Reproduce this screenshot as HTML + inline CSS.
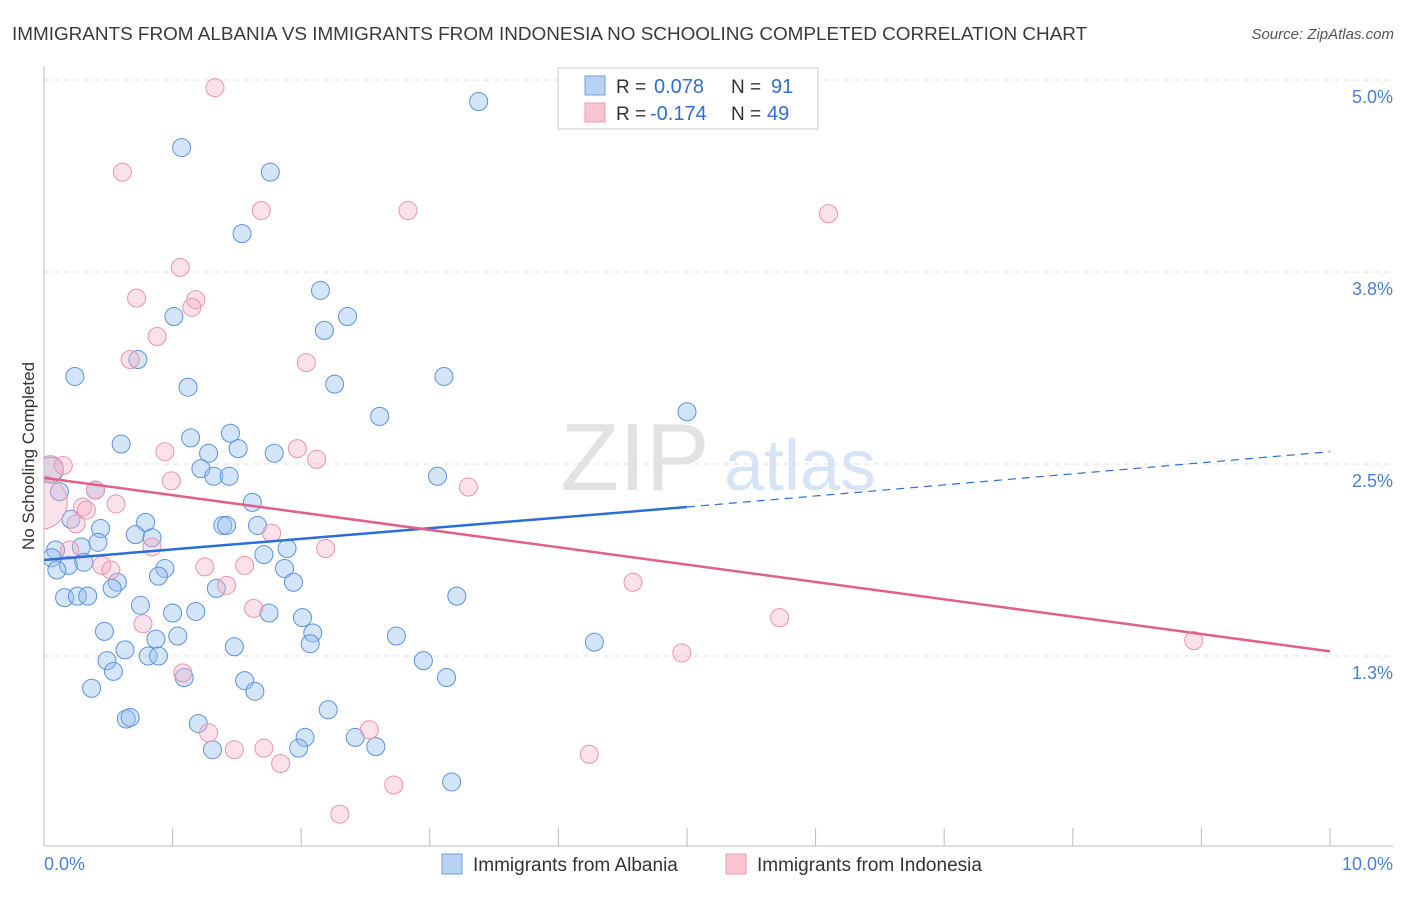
<!DOCTYPE html>
<html><head><meta charset="utf-8"><style>
body{margin:0;background:#fff;font-family:"Liberation Sans",sans-serif;}
svg text{font-family:"Liberation Sans",sans-serif;}
</style></head><body>
<svg id="chart" width="1406" height="892" xmlns="http://www.w3.org/2000/svg">
<text x="12" y="40" font-size="18.9" fill="#3a3a3a">IMMIGRANTS FROM ALBANIA VS IMMIGRANTS FROM INDONESIA NO SCHOOLING COMPLETED CORRELATION CHART</text>
<text x="1394" y="39" font-size="15" fill="#555" font-style="italic" text-anchor="end">Source: ZipAtlas.com</text>
<g>
<text x="635" y="490" font-size="96" fill="#e2e2e2" text-anchor="middle" font-family="Liberation Serif">ZIP</text>
<text x="800" y="490" font-size="72" fill="#d6e4f5" text-anchor="middle">atlas</text>
</g>
<text transform="translate(34,456) rotate(-90)" font-size="17" fill="#333" text-anchor="middle">No Schooling Completed</text>
<g id="grid"></g>
<g id="axes"></g>
<defs><clipPath id="plotclip"><rect x="44" y="66" width="1350" height="780"/></clipPath></defs>
<g id="points" clip-path="url(#plotclip)"></g>
<g id="lines"></g>
<g>
<rect x="558" y="68" width="260" height="61" fill="#fff" stroke="#ccc"/>
<rect x="585" y="76" width="20" height="19" fill="#b8d2f3" stroke="#6f9fe0"/>
<rect x="585" y="103" width="20" height="19" fill="#f8c4d2" stroke="#eb9ab2"/>
<text x="616" y="93" font-size="19" fill="#333">R =</text>
<text x="654" y="93" font-size="20" fill="#2f6fd0">0.078</text>
<text x="731" y="93" font-size="19" fill="#333">N =</text>
<text x="771" y="93" font-size="20" fill="#2f6fd0">91</text>
<text x="616" y="120" font-size="19" fill="#333">R =</text>
<text x="650" y="120" font-size="20" fill="#2f6fd0">-0.174</text>
<text x="731" y="120" font-size="19" fill="#333">N =</text>
<text x="767" y="120" font-size="20" fill="#2f6fd0">49</text>
</g>
<g>
<rect x="442" y="854" width="20" height="20" fill="#b8d2f3" stroke="#6f9fe0"/>
<text x="473" y="871" font-size="19" fill="#333">Immigrants from Albania</text>
<rect x="726" y="854" width="20" height="20" fill="#f8c4d2" stroke="#eb9ab2"/>
<text x="757" y="871" font-size="19" fill="#333">Immigrants from Indonesia</text>
</g>
</svg>
<script>
const yTicks=[5.0,3.75,2.5,1.25];
const yTickLabels=["5.0%","3.8%","2.5%","1.3%"];
const xTickLabels=["0.0%","10.0%"];
const albaniaX=[3.38,1.07,1.76,1.54,2.15,2.36,1.01,2.18,0.73,0.24,1.12,2.26,3.11,2.61,5.00,0.60,1.14,1.45,1.51,1.79,1.28,1.22,1.32,1.44,3.06,0.12,0.40,1.62,0.21,0.44,0.79,1.39,1.42,1.66,0.71,0.84,0.42,0.29,0.09,0.06,1.89,1.71,0.19,0.10,0.31,0.94,0.89,0.57,1.87,1.94,1.34,0.53,0.16,0.26,0.34,3.21,0.75,1.00,1.18,1.75,2.01,0.47,1.04,2.09,2.74,0.87,2.07,4.28,0.63,1.48,0.81,0.89,0.49,2.95,0.54,1.09,3.13,1.56,0.37,1.64,2.21,0.64,0.67,1.20,2.03,2.42,2.58,1.98,1.31,3.17,0.05];
const albaniaY=[4.86,4.56,4.40,4.00,3.63,3.46,3.46,3.37,3.18,3.07,3.00,3.02,3.07,2.81,2.84,2.63,2.67,2.70,2.60,2.57,2.57,2.47,2.42,2.42,2.42,2.32,2.33,2.25,2.14,2.08,2.12,2.10,2.10,2.10,2.04,2.02,1.99,1.96,1.94,1.89,1.95,1.91,1.84,1.81,1.86,1.82,1.77,1.73,1.82,1.73,1.69,1.69,1.63,1.64,1.64,1.64,1.58,1.53,1.54,1.53,1.50,1.41,1.38,1.40,1.38,1.36,1.33,1.34,1.29,1.31,1.25,1.25,1.22,1.22,1.15,1.11,1.11,1.09,1.04,1.02,0.90,0.84,0.85,0.81,0.72,0.72,0.66,0.65,0.64,0.43,2.46];
const indonesiaX=[1.33,0.61,1.69,2.83,6.10,1.06,0.72,1.18,1.15,0.88,0.67,2.04,0.05,0.15,-0.03,0.94,1.97,2.12,0.99,3.30,0.40,0.56,0.30,0.33,0.25,1.77,0.84,2.19,0.20,0.45,0.52,1.25,1.56,1.42,4.58,1.63,5.72,0.77,1.08,4.96,8.94,1.28,2.53,1.48,1.71,1.84,4.24,2.72,2.30];
const indonesiaY=[4.95,4.40,4.15,4.15,4.13,3.78,3.58,3.57,3.52,3.33,3.18,3.16,2.47,2.49,2.25,2.58,2.60,2.53,2.39,2.35,2.33,2.24,2.22,2.20,2.11,2.05,1.96,1.95,1.94,1.84,1.81,1.83,1.84,1.71,1.73,1.56,1.50,1.46,1.14,1.27,1.35,0.75,0.77,0.64,0.65,0.55,0.61,0.41,0.22];
const albaniaTrend=[1.875,2.22,2.58];
const indonesiaTrend=[2.41,1.28];
const NS="http://www.w3.org/2000/svg";
const X0=44,X1=1330,Y0=848,YS=153.6;
function xs(v){return X0+(X1-X0)*v/10;}
function ys(v){return Y0-v*YS;}
function mk(tag,attrs,parent){const e=document.createElementNS(NS,tag);for(const k in attrs)e.setAttribute(k,attrs[k]);parent.appendChild(e);return e;}
const grid=document.getElementById('grid'),axes=document.getElementById('axes'),pts=document.getElementById('points'),lines=document.getElementById('lines');
yTicks.forEach((t,i)=>{
 const l=mk('line',{x1:44,x2:1393,y1:ys(t),y2:ys(t),stroke:'#ddd','stroke-dasharray':'5,5'},grid);
 
 
 const tx=mk('text',{x:1393,y:ys(t)+23,'font-size':18,fill:'#4a7fd4','text-anchor':'end'},axes);
 tx.textContent=yTickLabels[i];
 
 
});
const ax=mk('line',{x1:44,x2:44,y1:66,y2:846,stroke:'#bbb'},axes);


const bx=mk('line',{x1:44,x2:1393,y1:846,y2:846,stroke:'#bbb'},axes);


for(let i=0;i<=10;i++){
 const t=mk('line',{x1:xs(i),x2:xs(i),y1:828,y2:846,stroke:'#bbb'},axes);
 
 
}
const xl0=mk('text',{x:44,y:870,'font-size':18,fill:'#4a7fd4'},axes);xl0.textContent=xTickLabels[0];


const xl1=mk('text',{x:1393,y:870,'font-size':18,fill:'#4a7fd4','text-anchor':'end'},axes);xl1.textContent=xTickLabels[1];


function big(x,y){if(x<0)return 27;if(x<0.1&&y>2.4)return 13;return 9;}
albaniaX.forEach((x,i)=>{
 const c=mk('circle',{cx:xs(x),cy:ys(albaniaY[i]),r:big(x,albaniaY[i]),fill:'rgba(150,190,240,0.4)',stroke:'#5b93e0','stroke-width':1},pts);
 
 
});
indonesiaX.forEach((x,i)=>{
 const c=mk('circle',{cx:xs(x),cy:ys(indonesiaY[i]),r:big(x,indonesiaY[i]),fill:'rgba(245,175,196,0.38)',stroke:'#eb94ae','stroke-width':1},pts);
 
 
});
const bl=mk('line',{x1:xs(0),y1:ys(albaniaTrend[0]),x2:xs(5),y2:ys(albaniaTrend[1]),stroke:'#2b6fd6','stroke-width':2.5},lines);


const bd=mk('line',{x1:xs(5),y1:ys(albaniaTrend[1]),x2:xs(10),y2:ys(albaniaTrend[2]),stroke:'#2b6fd6','stroke-width':1.2,'stroke-dasharray':'8,6'},lines);


const pl=mk('line',{x1:xs(0),y1:ys(indonesiaTrend[0]),x2:xs(10),y2:ys(indonesiaTrend[1]),stroke:'#e0608c','stroke-width':2.5},lines);


</script>
</body></html>
